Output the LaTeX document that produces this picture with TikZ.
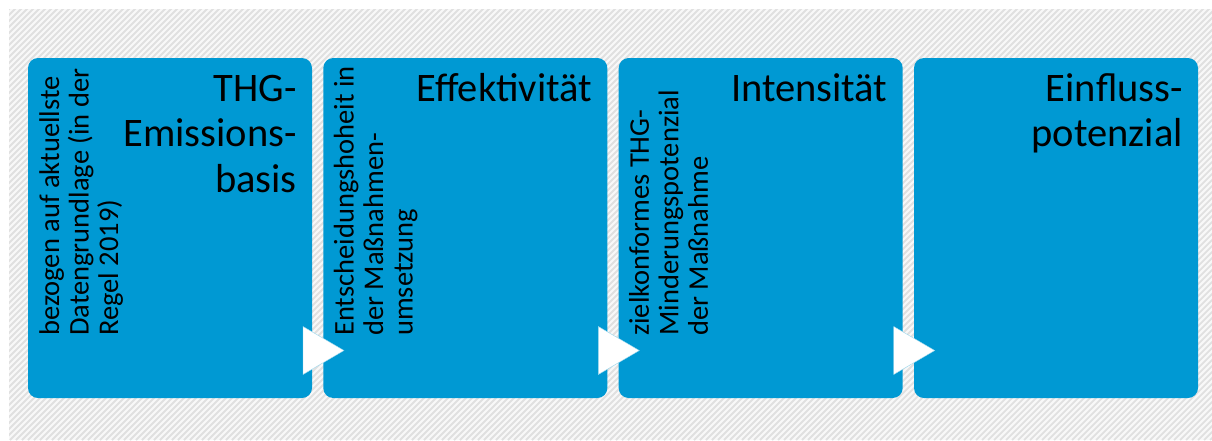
\documentclass[tikz,border=0pt]{standalone}
\usepackage{fontspec}
\setmainfont{Carlito}
\definecolor{boxblue}{RGB}{0,153,211}
\definecolor{hatchbg}{RGB}{248,248,248}
\definecolor{hatchline}{RGB}{224,224,224}
\tikzset{
  stagebox/.style={fill=boxblue, draw=none, rounded corners=10pt},
  titletext/.style={anchor=north east, inner sep=0pt, align=right, text=black,
    font=\fontsize{40.5pt}{45.5pt}\selectfont},
  desctext/.style={anchor=north west, inner sep=0pt, align=left, rotate=90, text=black,
    font=\fontsize{28.5pt}{29.5pt}\selectfont},
  flowarrow/.style={fill=white, draw=boxblue!40, line width=0.4pt},
  hatch/.style={draw=hatchline, line width=1.8pt}
}
\begin{document}
\begin{tikzpicture}[x=1pt, y=-1pt]
\useasboundingbox (0,0) rectangle (1212,440);
\fill[white] (0,0) rectangle (1212,440);
% hatched background
\begin{scope}
  \clip (9,9) rectangle (1212,440);
  \fill[hatchbg] (9,9) rectangle (1212,440);
  \foreach \i in {0,6,...,1700} {
    \draw[hatch] (\i-440,440) -- (\i,0);
  }
\end{scope}
% boxes
\path[stagebox] (28,58) rectangle (312,398);
\path[stagebox] (323.3,58) rectangle (607.3,398);
\path[stagebox] (618.7,58) rectangle (902.7,398);
\path[stagebox] (914,58) rectangle (1198,398);
% titles
\node[titletext] (t1) at (297,69) {\rule{0pt}{32pt}THG-\\Emissions-\\basis};
\node[titletext] (t2) at (592.3,69) {\rule{0pt}{32pt}Effektivität};
\node[titletext] (t3) at (887.7,69) {\rule{0pt}{32pt}Intensität};
\node[titletext] (t4) at (1183,69) {\rule{0pt}{32pt}Einfluss-\\potenzial};
% descriptions
\node[desctext] (d1) at (37,336) {\rule{0pt}{22pt}bezogen auf aktuellste\\Datengrundlage (in der\\Regel 2019)};
\node[desctext] (d2) at (331.3,336) {\rule{0pt}{22pt}Entscheidungshoheit in\\der Maßnahmen-\\umsetzung};
\node[desctext] (d3) at (626.7,336) {\rule{0pt}{22pt}zielkonformes THG-\\Minderungspotenzial\\der Maßnahme};
% arrows
\path[flowarrow] (303,326.5) -- (344,350.5) -- (303,374.5) -- cycle;
\path[flowarrow] (598.3,326.5) -- (639.3,350.5) -- (598.3,374.5) -- cycle;
\path[flowarrow] (893.7,326.5) -- (934.7,350.5) -- (893.7,374.5) -- cycle;
\end{tikzpicture}
\end{document}
